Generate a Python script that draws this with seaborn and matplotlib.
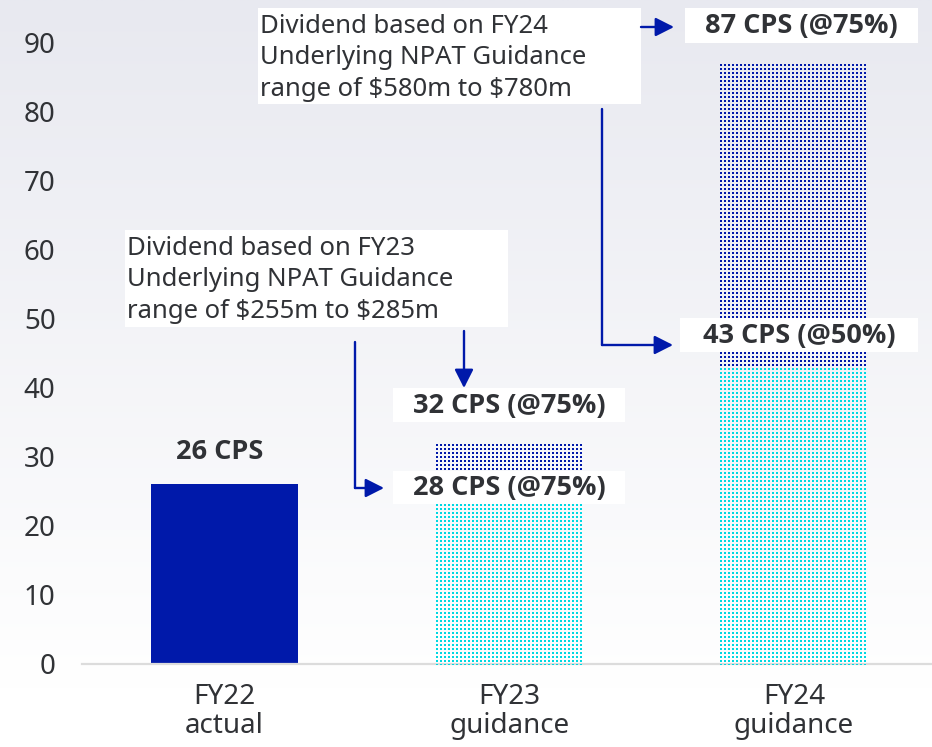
import numpy as np
import seaborn as sns
import matplotlib.pyplot as plt
import matplotlib.colors as mcolors
from matplotlib import font_manager

# data
periods = ['FY22\nactual', 'FY23\nguidance', 'FY24\nguidance']
actual_cps = [26, 0, 0]
range_low = [0, 28, 43]
range_high = [0, 32, 87]
yticks = [0, 10, 20, 30, 40, 50, 60, 70, 80, 90]

BLUE = '#0019AA'
CYAN = '#00D8E2'
TEXT = '#303236'
BAR_W = 0.516

sns.set_style('white')
plt.rcParams['font.family'] = ['Noto Sans', 'DejaVu Sans']

# pick a family that really has a bold face
BOLD_FAMILY = 'DejaVu Sans'
for fam in ['Noto Sans', 'Open Sans', 'Lato', 'Roboto']:
    try:
        path = font_manager.findfont(font_manager.FontProperties(family=fam, weight='bold'),
                                     fallback_to_default=False)
    except Exception:
        continue
    if 'bold' in path.lower():
        BOLD_FAMILY = fam
        break

W, H = 932, 747
AX_L, AX_B = 82, 83          # axes edges in pixels
fig = plt.figure(figsize=(W / 100, H / 100), dpi=100)
fig.patch.set_facecolor('white')

# background gradient
bg = fig.add_axes([0, 0, 1, 1], zorder=-10)
t = np.clip(np.linspace(0, 1, 300) / 0.92, 0, 1)[:, None]
top = np.array([232, 233, 240]) / 255
bot = np.array([255, 255, 255]) / 255
grad = top * (1 - t[..., None]) + bot * t[..., None]
grad = np.repeat(grad, 2, axis=1)
bg.imshow(grad, aspect='auto', extent=[0, 1, 0, 1], origin='upper')
bg.set_axis_off()

ax_w, ax_h = W - AX_L, H - AX_B
ax = fig.add_axes([AX_L / W, AX_B / H, ax_w / W, ax_h / H], zorder=0)
ax.set_facecolor('none')

# bars
sns.barplot(x=periods, y=actual_cps, order=periods, color=BLUE, width=BAR_W,
            saturation=1, linewidth=0, ax=ax)
sns.barplot(x=periods, y=range_low, order=periods, color=CYAN, width=BAR_W,
            saturation=1, linewidth=0, ax=ax)
low_bars = list(ax.containers[-1])
high_bars = list(ax.bar(range(len(periods)), np.subtract(range_high, range_low),
                        bottom=range_low, width=BAR_W, color=BLUE, linewidth=0))

ax.set_xlim(-0.5, 2.485)
ax.set_ylim(0, ax_h / 6.911)
ax.set_yticks(yticks)
ax.tick_params(axis='y', length=0, pad=19, labelsize=20, labelcolor=TEXT)
ax.tick_params(axis='x', length=0, pad=14, labelsize=20, labelcolor=TEXT)
for lab in ax.get_xticklabels():
    lab.set_linespacing(1.05)
ax.set_xlabel('')
for s in ['left', 'right', 'top']:
    ax.spines[s].set_visible(False)
ax.spines['bottom'].set_color('#dcdcdc')
ax.spines['bottom'].set_linewidth(1.6)


def dot_texture(color, step=4, size=2):
    rgba = np.zeros((H, W, 4))
    rgba[..., :3] = mcolors.to_rgb(color)
    r = np.arange(H)[:, None] % step < size
    c = np.arange(W)[None, :] % step < size
    rgba[..., 3] = (r & c).astype(float)
    return rgba


# dotted fill for the guidance ranges, pixel-exact, clipped to each bar
for bars, color in [(low_bars, CYAN), (high_bars, BLUE)]:
    tex = dot_texture(color)
    for p in bars:
        if p.get_height() <= 0:
            continue
        p.set_facecolor('none')
        im = fig.figimage(tex, xo=0, yo=0, origin='upper', zorder=1)
        im.set_clip_path(p)

# overlay axes in pixel coordinates (top-left origin) for the call-outs
ov = fig.add_axes([0, 0, 1, 1], zorder=5)
ov.set_xlim(0, W)
ov.set_ylim(H, 0)
ov.set_axis_off()
ov.patch.set_alpha(0)


def note(x0, y0, x1, y1, lines, base0, step):
    ov.add_patch(plt.Rectangle((x0, y0), x1 - x0, y1 - y0, facecolor='white',
                               edgecolor='none'))
    for i, s in enumerate(lines):
        ov.text(x0 + 2, base0 + i * step, s, fontsize=18.5, color=TEXT,
                va='baseline', ha='left')


def label(x0, y0, x1, y1, s, box=True):
    if box:
        ov.add_patch(plt.Rectangle((x0, y0), x1 - x0, y1 - y0, facecolor='white',
                                   edgecolor='none'))
    ov.text((x0 + x1) / 2, (y0 + y1) / 2 + 1, s, fontsize=19.5,
            family=[BOLD_FAMILY, 'DejaVu Sans'], fontweight='bold', color=TEXT,
            ha='center', va='center')


note(258, 8, 641, 104, ['Dividend based on FY24', 'Underlying NPAT Guidance',
                        r'range of \$580m to \$780m'], 33, 31.5)
note(125, 230, 508, 327, ['Dividend based on FY23', 'Underlying NPAT Guidance',
                          r'range of \$255m to \$285m'], 255, 31.5)

label(685, 8, 918, 43, '87 CPS (@75%)')
label(680, 318, 918, 352, '43 CPS (@50%)')
label(393, 388, 625, 422, '32 CPS (@75%)')
label(393, 471, 625, 504, '28 CPS (@75%)')
label(160, 434, 280, 468, '26 CPS', box=False)

# arrows
aprops = dict(arrowstyle='-|>,head_length=0.75,head_width=0.38', mutation_scale=15,
              lw=1.7, color=BLUE, shrinkA=0, shrinkB=0)


def arrow(points):
    xs = [p[0] for p in points]
    ys = [p[1] for p in points]
    if len(points) > 2:
        ov.plot(xs[:-1], ys[:-1], color=BLUE, lw=1.7, solid_joinstyle='miter')
    ov.annotate('', xy=points[-1], xytext=points[-2], arrowprops=aprops)


arrow([(641, 27), (674, 27)])
arrow([(602, 109), (602, 345), (673, 345)])
arrow([(464, 331), (464, 388)])
arrow([(355, 342), (355, 488), (384, 488)])

fig.savefig('out.png', dpi=100)
